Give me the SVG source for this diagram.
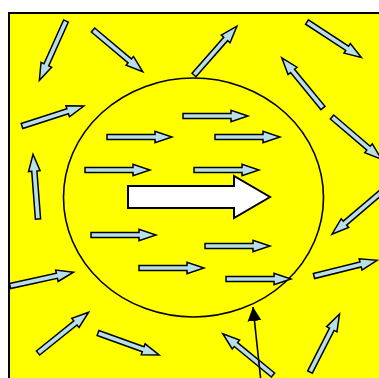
<svg xmlns="http://www.w3.org/2000/svg" xmlns:xlink="http://www.w3.org/1999/xlink" width="379" height="378" viewBox="0 0 379 378">
<style>
.sa{fill:#b8dfe6;stroke:#000;stroke-width:1.5;stroke-linejoin:miter}
.big{fill:#fff;stroke:#000;stroke-width:2}
.ell{fill:none;stroke:#000;stroke-width:1.6}
.ln{stroke:#000;stroke-width:1.6;fill:none}
</style>
<defs>
<path id="a" d="M0,-2.6 H48 V-5.8 L65,0 L48,5.8 V2.6 H0 Z"/>
<marker id="tri" markerWidth="14" markerHeight="14" refX="14" refY="7" orient="auto" markerUnits="userSpaceOnUse">
<path d="M0,0 L14,7 L0,14 Z" fill="#000"/>
</marker>
</defs>
<rect width="379" height="378" fill="#fff"/>
<rect x="9" y="13" width="380" height="380" fill="#ffff00" stroke="#000" stroke-width="2"/>
<g id="field">
<ellipse id="region" class="ell" cx="193.5" cy="197.5" rx="130" ry="119.5"/>
</g>
<g id="small-arrows">
<use xlink:href="#a" href="#a" class="sa" transform="translate(66,21) rotate(114.2)"/>
<use xlink:href="#a" href="#a" class="sa" transform="translate(93,30) rotate(40)"/>
<use xlink:href="#a" href="#a" class="sa" transform="translate(22,126) rotate(-17.9)"/>
<use xlink:href="#a" href="#a" class="sa" transform="translate(38,219) rotate(-94.4)"/>
<use xlink:href="#a" href="#a" class="sa" transform="translate(107,137)"/>
<use xlink:href="#a" href="#a" class="sa" transform="translate(85,170)"/>
<use xlink:href="#a" href="#a" class="sa" transform="translate(183,116)"/>
<use xlink:href="#a" href="#a" class="sa" transform="translate(215,137)"/>
<use xlink:href="#a" href="#a" class="sa" transform="translate(194,170)"/>
<use xlink:href="#a" href="#a" class="sa" transform="translate(194,75) rotate(-48.7)"/>
<use xlink:href="#a" href="#a" class="sa" transform="translate(307,22) rotate(33.2)"/>
<use xlink:href="#a" href="#a" class="sa" transform="translate(323,108) rotate(-129.4)"/>
<use xlink:href="#a" href="#a" class="sa" transform="translate(332,117) rotate(40.5)"/>
<use xlink:href="#a" href="#a" class="sa" transform="translate(381.5,192) rotate(139.6)"/>
<use xlink:href="#a" href="#a" class="sa" transform="translate(314,276) rotate(-14)"/>
<use xlink:href="#a" href="#a" class="sa" transform="translate(205,246)"/>
<use xlink:href="#a" href="#a" class="sa" transform="translate(226,279)"/>
<use xlink:href="#a" href="#a" class="sa" transform="translate(139,268)"/>
<use xlink:href="#a" href="#a" class="sa" transform="translate(91,235)"/>
<use xlink:href="#a" href="#a" class="sa" transform="translate(10,286) rotate(-12.3)"/>
<use xlink:href="#a" href="#a" class="sa" transform="translate(38,353) rotate(-38.8)"/>
<use xlink:href="#a" href="#a" class="sa" transform="translate(98,333) rotate(19.8)"/>
<use xlink:href="#a" href="#a" class="sa" transform="translate(273,375) rotate(-140.6)"/>
<use xlink:href="#a" href="#a" class="sa" transform="translate(310,372) rotate(-63)"/>
</g>
<g id="big-arrow">
<polygon class="big" points="128,186 234,186 234,176 270,197 234,218 234,208 128,208"/>
</g>
<g id="connectors">
<line class="ln" x1="261" y1="382" x2="253" y2="307" marker-end="url(#tri)"/>
</g>
</svg>
